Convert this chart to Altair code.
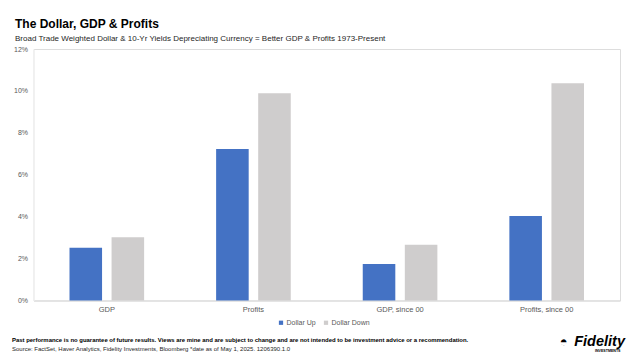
import altair as alt
import pandas as pd

categories = ["GDP", "Profits", "GDP, since 00", "Profits, since 00"]
series = ["Dollar Up", "Dollar Down"]
dollar_up = [2.52, 7.23, 1.74, 4.03]
dollar_down = [3.02, 9.89, 2.66, 10.36]
y_ticks = [0, 2, 4, 6, 8, 10, 12]
colors = ["#4472C4", "#CFCDCD"]

title_text = "The Dollar, GDP & Profits"
subtitle_text = ("Broad Trade Weighted Dollar & 10-Yr Yields Depreciating Currency = "
                 "Better GDP & Profits 1973-Present")
footer_bold = ("Past performance is no guarantee of future results. Views are mine and are "
               "subject to change and are not intended to be investment advice or a recommendation.")
footer_source = ("Source: FactSet, Haver Analytics, Fidelity Investments, Bloomberg *date as of  "
                 "May 1, 2025. 1206390.1.0")

rows = []
for c, u, d in zip(categories, dollar_up, dollar_down):
    rows.append({"category": c, "series": series[0], "value": u})
    rows.append({"category": c, "series": series[1], "value": d})
df = pd.DataFrame(rows)

W, H = 586.5, 251.5
FONT = "Liberation Sans"

bars = alt.Chart(df).mark_bar().encode(
    x=alt.X("category:N", sort=categories,
            scale=alt.Scale(paddingInner=0.491, paddingOuter=0.2455),
            axis=alt.Axis(title=None, labelAngle=0, labelFontSize=7.5, labelColor="#595959",
                          ticks=False, domainColor="#D9D9D9", labelPadding=5)),
    xOffset=alt.XOffset("series:N", sort=series,
                        scale=alt.Scale(paddingInner=0.226, paddingOuter=0)),
    y=alt.Y("value:Q", scale=alt.Scale(domain=[0, 12], nice=False),
            axis=alt.Axis(title=None, values=y_ticks, labelExpr="datum.value + '%'",
                          labelFontSize=7, labelColor="#595959", ticks=False, grid=False,
                          domainColor="#F3F3F3", labelPadding=6)),
    color=alt.Color("series:N", sort=series,
                    scale=alt.Scale(domain=series, range=colors),
                    legend=alt.Legend(title=None, orient="none", legendX=244, legendY=270,
                                      direction="horizontal", symbolType="square",
                                      symbolSize=18, labelFontSize=7, labelColor="#595959",
                                      columnPadding=6, labelOffset=2, symbolStrokeWidth=0)),
)


def txt(text, x, y, size, weight="normal", color="#000000", align="left", style="normal"):
    return alt.Chart(pd.DataFrame({"t": [text]})).mark_text(
        align=align, baseline="alphabetic", fontSize=size, fontWeight=weight,
        color=color, font=FONT, fontStyle=style,
    ).encode(x=alt.value(x), y=alt.value(y), text="t:N")


layers = [
    bars,
    txt(title_text, -18.5, -21, 12, weight="bold"),
    txt(subtitle_text, -18.5, -8, 8.0, color="#262626"),
    txt(footer_bold, -21.5, 293, 5.95, weight="bold"),
    txt(footer_source, -21.5, 302, 6.0, color="#262626"),
    txt("Fidelity", 591.5, 297, 14.5, weight="bold", align="right", style="italic"),
    txt("INVESTMENTS", 587, 302.5, 3.6, weight="bold", align="right"),
    txt("\u25D3", 534, 297, 13, align="right"),
]

chart = alt.layer(*layers).properties(
    width=W, height=H,
    autosize=alt.AutoSizeParams(type="none"),
    padding={"left": 25.5, "top": 41, "right": 15, "bottom": 52.5},
).configure_view(stroke=None).configure(font=FONT)

chart.save("out.html", embed_options={"renderer": "svg", "actions": False})
